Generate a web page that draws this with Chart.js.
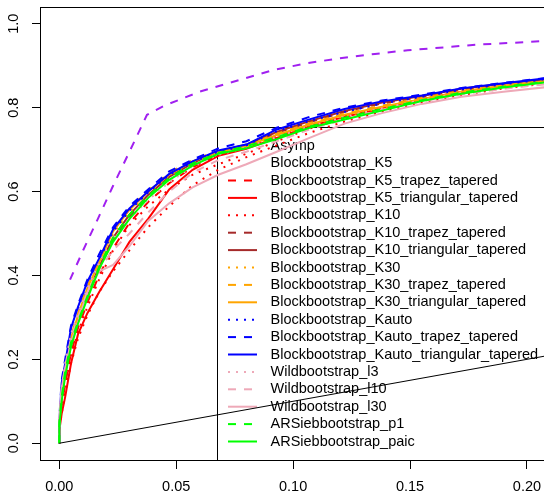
<!DOCTYPE html>
<html>
<head>
<meta charset="utf-8">
<title>ROC curves</title>
<script src="https://cdn.jsdelivr.net/npm/chart.js@4.4.1/dist/chart.umd.min.js"></script>
<style>
  html, body { margin: 0; padding: 0; background: #fff; }
  canvas { display: block; }
</style>
</head>
<body>
<canvas id="rocChart" width="544" height="501"></canvas>
<script>
// false positive rates shared by the bootstrap curves
var fpr = [0, 0, 0.001, 0.0025, 0.005, 0.008, 0.012, 0.017, 0.023, 0.03, 0.038, 0.047, 0.057, 0.068, 0.08, 0.093, 0.107, 0.122, 0.138, 0.155, 0.172, 0.19, 0.21];

// true positive rates
var tprK5              = [0, 0.04, 0.09, 0.14, 0.21, 0.265, 0.325, 0.39, 0.46, 0.52, 0.565, 0.605, 0.64, 0.665, 0.69, 0.72, 0.75, 0.775, 0.797, 0.818, 0.836, 0.85, 0.862];
var tprK5Trapez        = [0, 0.04, 0.09, 0.14, 0.215, 0.275, 0.335, 0.40, 0.465, 0.525, 0.575, 0.62, 0.658, 0.688, 0.705, 0.732, 0.758, 0.78, 0.80, 0.82, 0.838, 0.851, 0.864];
var tprK5Triangular    = [0, 0.03, 0.07, 0.11, 0.19, 0.26, 0.31, 0.36, 0.415, 0.48, 0.535, 0.605, 0.652, 0.685, 0.702, 0.728, 0.755, 0.778, 0.798, 0.817, 0.836, 0.85, 0.863];
var tprK10             = [0, 0.03, 0.07, 0.12, 0.19, 0.25, 0.305, 0.36, 0.41, 0.46, 0.515, 0.565, 0.615, 0.652, 0.682, 0.71, 0.74, 0.767, 0.79, 0.812, 0.83, 0.846, 0.859];
var tprK10Trapez       = [0, 0.04, 0.105, 0.16, 0.235, 0.29, 0.35, 0.415, 0.485, 0.54, 0.588, 0.632, 0.666, 0.693, 0.71, 0.74, 0.765, 0.79, 0.81, 0.826, 0.843, 0.855, 0.867];
var tprK10Triangular   = [0, 0.04, 0.11, 0.165, 0.24, 0.295, 0.355, 0.42, 0.49, 0.545, 0.592, 0.635, 0.668, 0.695, 0.712, 0.742, 0.768, 0.792, 0.812, 0.828, 0.845, 0.857, 0.869];
var tprK30             = [0, 0.04, 0.11, 0.165, 0.24, 0.30, 0.36, 0.425, 0.50, 0.55, 0.597, 0.638, 0.67, 0.692, 0.706, 0.732, 0.758, 0.78, 0.80, 0.818, 0.836, 0.85, 0.864];
var tprK30Trapez       = [0, 0.05, 0.125, 0.18, 0.255, 0.31, 0.375, 0.435, 0.51, 0.56, 0.603, 0.645, 0.675, 0.697, 0.71, 0.738, 0.763, 0.786, 0.805, 0.823, 0.84, 0.853, 0.866];
var tprK30Triangular   = [0, 0.04, 0.12, 0.175, 0.25, 0.305, 0.37, 0.43, 0.505, 0.556, 0.60, 0.64, 0.672, 0.695, 0.708, 0.735, 0.76, 0.783, 0.802, 0.82, 0.838, 0.852, 0.865];
var tprKauto           = [0, 0.05, 0.13, 0.185, 0.265, 0.315, 0.375, 0.435, 0.505, 0.555, 0.598, 0.64, 0.67, 0.695, 0.71, 0.744, 0.768, 0.79, 0.81, 0.826, 0.843, 0.856, 0.869];
var tprKautoTrapez     = [0, 0.06, 0.15, 0.20, 0.28, 0.33, 0.39, 0.45, 0.515, 0.565, 0.605, 0.648, 0.676, 0.703, 0.72, 0.752, 0.778, 0.80, 0.817, 0.831, 0.847, 0.859, 0.872];
var tprKautoTriangular = [0, 0.05, 0.143, 0.19, 0.275, 0.325, 0.385, 0.44, 0.51, 0.56, 0.60, 0.642, 0.672, 0.698, 0.712, 0.748, 0.772, 0.797, 0.815, 0.829, 0.846, 0.858, 0.871];
var tprWildL3          = [0, 0.06, 0.13, 0.19, 0.26, 0.31, 0.37, 0.43, 0.49, 0.535, 0.58, 0.622, 0.66, 0.688, 0.705, 0.73, 0.755, 0.778, 0.798, 0.818, 0.835, 0.848, 0.86];
var tprWildL10         = [0, 0.06, 0.13, 0.185, 0.25, 0.30, 0.36, 0.415, 0.46, 0.50, 0.55, 0.60, 0.645, 0.675, 0.695, 0.72, 0.748, 0.772, 0.795, 0.815, 0.832, 0.845, 0.857];
var tprWildL30         = [0, 0.06, 0.13, 0.18, 0.24, 0.29, 0.36, 0.41, 0.425, 0.47, 0.53, 0.572, 0.61, 0.64, 0.665, 0.695, 0.728, 0.762, 0.787, 0.809, 0.826, 0.838, 0.85];
var tprSiebP1          = [0, 0.05, 0.11, 0.17, 0.24, 0.29, 0.35, 0.42, 0.49, 0.545, 0.59, 0.632, 0.667, 0.692, 0.708, 0.73, 0.755, 0.776, 0.797, 0.818, 0.836, 0.85, 0.863];
var tprSiebPaic        = [0, 0.04, 0.10, 0.16, 0.23, 0.285, 0.345, 0.415, 0.48, 0.535, 0.585, 0.628, 0.662, 0.69, 0.703, 0.725, 0.752, 0.772, 0.793, 0.816, 0.833, 0.848, 0.862];

// asymptotic curve has its own points
var asympFpr = [0.0046, 0.0102, 0.0165, 0.0231, 0.030, 0.0375, 0.045, 0.060, 0.077, 0.091, 0.105, 0.12, 0.135, 0.149, 0.165, 0.178, 0.195, 0.21];
var asympTpr = [0.39, 0.46, 0.535, 0.615, 0.695, 0.783, 0.805, 0.838, 0.866, 0.889, 0.905, 0.918, 0.928, 0.937, 0.944, 0.95, 0.955, 0.96];

// diagonal reference line
var diagFpr = [0, 1];
var diagTpr = [0, 1];

var xTicks = [0, 0.05, 0.10, 0.15, 0.20];
var yTicks = [0, 0.2, 0.4, 0.6, 0.8, 1.0];

// styles, in legend order
var DOT = [2, 6], DASH = [8, 8], SOLID = [];
var series = [
    { label: 'Asymp', fpr: asympFpr, tpr: asympTpr, color: '#A020F0', dash: DASH, sample: false },
    { label: 'Blockbootstrap_K5', fpr: fpr, tpr: tprK5, color: '#FF0000', dash: DOT, sample: false },
    { label: 'Blockbootstrap_K5_trapez_tapered', fpr: fpr, tpr: tprK5Trapez, color: '#FF0000', dash: DASH },
    { label: 'Blockbootstrap_K5_triangular_tapered', fpr: fpr, tpr: tprK5Triangular, color: '#FF0000', dash: SOLID },
    { label: 'Blockbootstrap_K10', fpr: fpr, tpr: tprK10, color: '#FF0000', dash: DOT },
    { label: 'Blockbootstrap_K10_trapez_tapered', fpr: fpr, tpr: tprK10Trapez, color: '#A52A2A', dash: DASH },
    { label: 'Blockbootstrap_K10_triangular_tapered', fpr: fpr, tpr: tprK10Triangular, color: '#A52A2A', dash: SOLID },
    { label: 'Blockbootstrap_K30', fpr: fpr, tpr: tprK30, color: '#FFA500', dash: DOT },
    { label: 'Blockbootstrap_K30_trapez_tapered', fpr: fpr, tpr: tprK30Trapez, color: '#FFA500', dash: DASH },
    { label: 'Blockbootstrap_K30_triangular_tapered', fpr: fpr, tpr: tprK30Triangular, color: '#FFA500', dash: SOLID },
    { label: 'Blockbootstrap_Kauto', fpr: fpr, tpr: tprKauto, color: '#0000FF', dash: DOT },
    { label: 'Blockbootstrap_Kauto_trapez_tapered', fpr: fpr, tpr: tprKautoTrapez, color: '#0000FF', dash: DASH },
    { label: 'Blockbootstrap_Kauto_triangular_tapered', fpr: fpr, tpr: tprKautoTriangular, color: '#0000FF', dash: SOLID },
    { label: 'Wildbootstrap_l3', fpr: fpr, tpr: tprWildL3, color: '#EEA9B8', dash: DOT },
    { label: 'Wildbootstrap_l10', fpr: fpr, tpr: tprWildL10, color: '#EEA9B8', dash: DASH },
    { label: 'Wildbootstrap_l30', fpr: fpr, tpr: tprWildL30, color: '#EEA9B8', dash: SOLID },
    { label: 'ARSiebbootstrap_p1', fpr: fpr, tpr: tprSiebP1, color: '#00FF00', dash: DASH },
    { label: 'ARSiebbootstrap_paic', fpr: fpr, tpr: tprSiebPaic, color: '#00FF00', dash: SOLID }
];

var FONT = { family: '"Liberation Sans", Arial, Helvetica, sans-serif', size: 14.5 };

function toPoints(xs, ys) {
    return xs.map(function (x, i) { return { x: x, y: ys[i] }; });
}

var datasets = series.map(function (s, i) {
    return {
        label: s.label,
        data: toPoints(s.fpr, s.tpr),
        borderColor: s.color,
        borderDash: s.dash,
        borderWidth: 2,
        pointRadius: 0,
        tension: 0,
        fill: false,
        order: series.length - i   // later series are painted on top, as in R
    };
});
datasets.push({
    label: 'diagonal',
    data: toPoints(diagFpr, diagTpr),
    borderColor: '#000000',
    borderWidth: 1,
    pointRadius: 0,
    tension: 0,
    fill: false,
    order: -1
});

// the plot region runs past the right edge of the window, so no label padding
function noPadding(s) {
    s.paddingLeft = 0;
    s.paddingRight = 0;
    s.paddingTop = 0;
    s.paddingBottom = 0;
}

// R style legend, anchored at the bottom right of the plot region
var legendLeft = 0.0675, legendTop = 0.755;
var rLegend = {
    id: 'rLegend',
    beforeDatasetsDraw: function (chart) {
        var ctx = chart.ctx, area = chart.chartArea;
        var xs = chart.scales.x, ys = chart.scales.y;
        var bx = Math.round(xs.getPixelForValue(legendLeft)) + 0.5;
        var by = Math.round(ys.getPixelForValue(legendTop)) + 0.5;
        ctx.save();
        ctx.beginPath();
        ctx.rect(area.left, area.top, area.right - area.left, area.bottom - area.top);
        ctx.clip();
        ctx.strokeStyle = '#000';
        ctx.lineWidth = 1;
        ctx.setLineDash([]);
        ctx.strokeRect(bx, by, area.right + 40 - bx, area.bottom + 40 - by);
        ctx.font = FONT.size + 'px ' + FONT.family;
        ctx.textBaseline = 'middle';
        ctx.textAlign = 'left';
        series.forEach(function (s, i) {
            var rowY = by + 18.2 + i * 17.4;
            if (s.sample !== false) {
                ctx.beginPath();
                ctx.strokeStyle = s.color;
                ctx.lineWidth = 2;
                ctx.setLineDash(s.dash);
                ctx.moveTo(bx + 10.5, rowY);
                ctx.lineTo(bx + 39.5, rowY);
                ctx.stroke();
            }
            ctx.setLineDash([]);
            ctx.fillStyle = '#000';
            ctx.fillText(s.label, bx + 53, rowY);
        });
        ctx.restore();
    },
    afterDatasetsDraw: function (chart) {
        // top edge of the box around the plot
        var ctx = chart.ctx, area = chart.chartArea;
        var y = Math.round(area.top) + 0.5;
        ctx.save();
        ctx.strokeStyle = '#000';
        ctx.lineWidth = 1;
        ctx.beginPath();
        ctx.moveTo(area.left, y);
        ctx.lineTo(area.right, y);
        ctx.stroke();
        ctx.restore();
    }
};

var ctx = document.getElementById('rocChart').getContext('2d');
var rocChart = new Chart(ctx, {
    type: 'line',
    data: { datasets: datasets },
    plugins: [rLegend],
    options: {
        responsive: false,
        animation: false,
        devicePixelRatio: 1,
        layout: { padding: { top: 7, right: 0, left: 0, bottom: 0 } },
        plugins: { legend: { display: false }, tooltip: { enabled: false } },
        scales: {
            x: {
                type: 'linear',
                min: -0.00826,
                max: 0.2073,
                afterBuildTicks: function (s) { s.ticks = xTicks.map(function (v) { return { value: v }; }); },
                afterFit: function (s) { s.height = 41; noPadding(s); },
                grid: { display: true, drawOnChartArea: false, drawTicks: true, tickLength: 9, color: '#000', lineWidth: 1 },
                border: { display: true, color: '#000', width: 1 },
                ticks: {
                    color: '#000', font: FONT, padding: 9, maxRotation: 0, autoSkip: false,
                    callback: function (v) { return v.toFixed(2); }
                }
            },
            y: {
                type: 'linear',
                min: -0.04,
                max: 1.04,
                afterBuildTicks: function (s) { s.ticks = yTicks.map(function (v) { return { value: v }; }); },
                afterFit: function (s) { s.width = 40; noPadding(s); },
                grid: { display: true, drawOnChartArea: false, drawTicks: true, tickLength: 8, color: '#000', lineWidth: 1 },
                border: { display: true, color: '#000', width: 1 },
                ticks: {
                    color: '#000', font: FONT, padding: 8, minRotation: 90, maxRotation: 90,
                    crossAlign: 'center', autoSkip: false,
                    callback: function (v) { return v.toFixed(1); }
                }
            }
        }
    }
});
</script>
</body>
</html>
